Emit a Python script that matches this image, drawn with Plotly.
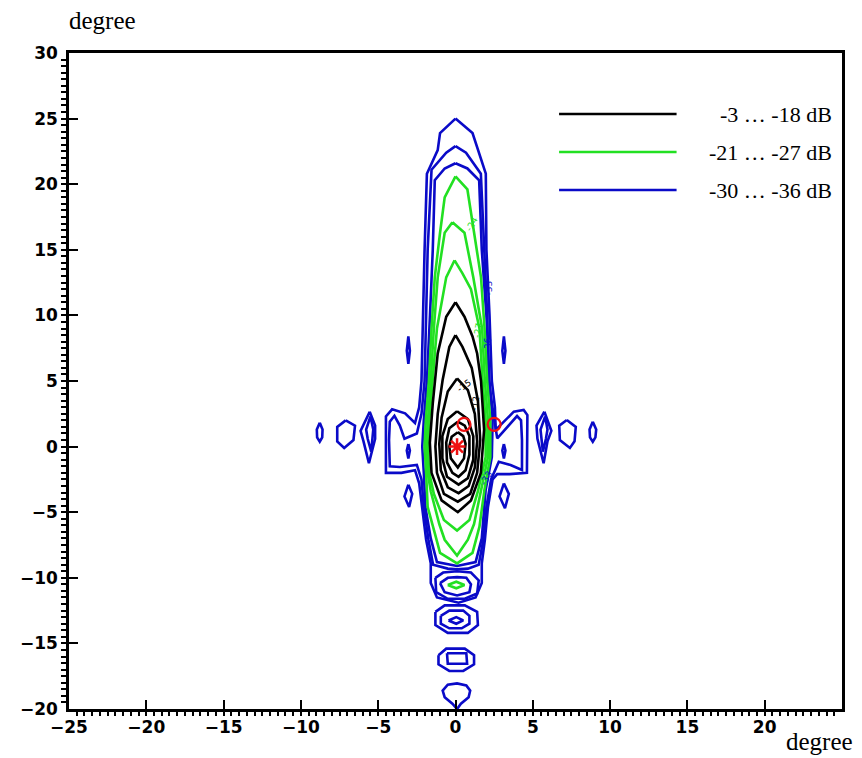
import plotly.graph_objects as go

# ---------------- data (degrees) ----------------
x_ticks = [-25, -20, -15, -10, -5, 0, 5, 10, 15, 20]
y_ticks = [-20, -15, -10, -5, 0, 5, 10, 15, 20, 25, 30]

legend_labels = ["-3 \u2026 -18 dB", "-21 \u2026 -27 dB", "-30 \u2026 -36 dB"]

# black contours: -3 ... -18 dB
c_m3 = [(0.15,1.1),(-0.25,0.75),(-0.4,0.0),(-0.3,-0.9),(0.15,-1.6),(0.55,-0.9),(0.65,0.2),(0.5,0.8)]
c_m6 = [(0.15,1.9),(-0.4,1.4),(-0.6,0.3),(-0.55,-1.2),(-0.2,-2.0),(0.2,-2.3),(0.65,-1.8),(0.9,-0.6),(0.9,0.8),(0.6,1.6)]
c_m9 = [(0.1,2.7),(-0.5,2.1),(-0.85,0.8),(-0.85,-0.9),(-0.55,-2.3),(0.2,-2.9),(0.8,-2.4),(1.15,-1.0),(1.15,0.8),(0.8,2.1)]
c_m12 = [(0.1,5.2),(-0.5,4.2),(-0.9,2.2),(-1.05,0.2),(-0.95,-1.8),(-0.5,-3.1),(0.2,-3.55),(0.85,-3.0),(1.25,-1.6),(1.4,0.4),(1.25,2.5),(0.8,4.3)]
c_m15 = [(0.0,8.5),(-0.4,7.6),(-0.83,5.1),(-1.15,2.5),(-1.3,0.0),(-1.2,-2.0),(-0.75,-3.6),(0.15,-4.2),(0.95,-3.6),(1.4,-2.0),(1.6,0.5),(1.45,3.5),(1.05,6.0),(0.45,7.6)]
c_m18 = [(0.0,11.0),(-0.6,9.9),(-1.15,7.1),(-1.47,3.3),(-1.66,0.3),(-1.55,-2.0),(-0.9,-4.1),(0.15,-5.0),(1.0,-4.1),(1.64,-2.0),(1.85,1.3),(1.65,5.0),(1.4,7.1),(1.1,8.4),(0.58,9.9)]

# green contours: -21 ... -27 dB
c_m21 = [(-0.06,14.2),(-0.6,12.9),(-1.2,9.0),(-1.5,5.0),(-1.7,2.0),(-1.8,0.0),(-1.7,-2.0),(-1.4,-3.6),(-0.75,-5.6),(0.1,-6.4),(0.9,-5.6),(1.45,-3.4),(1.95,-0.8),(1.95,2.0),(1.75,5.0),(1.55,9.0),(1.0,12.0),(0.45,13.2)]
c_m24 = [(-0.2,17.1),(-0.7,16.3),(-1.15,12.9),(-1.4,9.0),(-1.6,5.0),(-1.8,2.0),(-1.9,0.0),(-1.8,-2.0),(-1.6,-3.4),(-1.05,-5.9),(-0.7,-7.1),(0.1,-8.3),(0.8,-7.1),(1.2,-5.9),(1.65,-3.4),(2.1,-0.8),(2.1,2.0),(1.9,5.0),(1.72,9.0),(1.15,12.9),(0.58,16.3)]
c_m27 = [(0.0,20.6),(-0.7,19.0),(-1.0,16.3),(-1.34,12.9),(-1.55,9.0),(-1.72,5.0),(-1.92,2.0),(-2.0,0.0),(-1.9,-2.0),(-1.8,-4.6),(-1.34,-6.6),(-1.0,-8.1),(0.1,-8.9),(1.1,-8.1),(1.55,-6.1),(1.87,-3.3),(2.25,-0.8),(2.25,2.0),(2.05,5.0),(1.88,9.0),(1.65,12.9),(1.2,16.3),(0.9,18.3),(0.77,19.6)]
c_m27_lobe1 = [(-0.5,-10.55),(0.05,-10.3),(0.58,-10.55),(0.05,-10.8)]

# blue contours: -30 ... -36 dB
c_m30 = [(0.0,21.6),(-0.7,21.2),(-1.34,20.3),(-1.47,15.0),(-1.65,10.0),(-1.85,5.0),(-2.05,2.0),(-2.15,0.0),(-2.05,-2.0),(-1.95,-4.6),(-1.6,-7.0),(-1.2,-8.8),(0.1,-9.1),(1.3,-8.8),(1.7,-7.0),(1.95,-3.3),(2.35,-0.8),(2.4,2.0),(2.2,5.0),(2.0,10.0),(1.7,15.0),(1.53,20.3),(0.77,21.2)]
c_m33 = [(0.0,22.9),(-0.6,22.4),(-1.55,21.1),(-1.8,15.0),(-1.9,10.0),(-2.0,5.0),(-2.2,2.5),(-2.5,1.0),(-3.3,0.6),(-3.6,1.6),(-3.95,2.35),(-4.25,1.9),(-4.3,0.5),(-4.25,-1.5),(-3.6,-1.55),(-2.5,-1.4),(-2.2,-2.5),(-2.05,-4.6),(-1.75,-7.1),(-1.45,-9.0),(-0.5,-9.3),(0.1,-9.35),(0.8,-9.3),(1.5,-9.0),(1.8,-7.1),(2.0,-4.6),(2.3,-2.5),(2.8,-1.15),(3.56,-1.4),(4.3,-1.78),(4.3,0.5),(4.24,2.0),(3.98,2.33),(3.56,1.78),(2.7,0.63),(2.45,2.5),(2.15,5.0),(2.05,10.0),(1.85,15.0),(1.64,20.8),(0.68,22.4)]
c_m36 = [(0.0,25.0),(-1.0,23.9),(-1.15,22.6),(-1.85,20.8),(-2.0,15.0),(-2.1,10.0),(-2.2,5.0),(-2.35,3.0),(-2.62,1.8),(-3.26,2.54),(-4.1,2.84),(-4.5,2.3),(-4.5,-2.0),(-3.5,-2.0),(-2.62,-1.8),(-2.35,-2.8),(-2.15,-4.6),(-1.9,-7.1),(-1.6,-8.9),(-1.6,-10.4),(-1.2,-11.5),(0.2,-11.9),(1.3,-11.5),(1.7,-10.4),(1.7,-8.9),(1.9,-7.1),(2.1,-4.6),(2.4,-2.5),(2.7,-2.1),(3.5,-2.1),(4.62,-2.0),(4.65,2.4),(4.41,2.79),(3.77,2.66),(2.6,1.27),(2.55,3.0),(2.35,5.0),(2.2,10.0),(2.0,15.0),(1.96,20.8),(1.1,23.9)]
lobe1_m33 = [(-1.3,-10.0),(-0.8,-9.6),(0.1,-9.5),(1.0,-9.6),(1.5,-10.2),(1.4,-11.2),(0.6,-11.6),(-0.5,-11.6),(-1.25,-11.1)]
lobe1_m30 = [(-1.0,-10.4),(-0.5,-10.0),(0.1,-9.95),(0.7,-10.0),(1.0,-10.5),(0.9,-11.1),(0.1,-11.35),(-0.7,-11.1)]
lobe2_out = [(-1.3,-12.6),(-0.7,-12.1),(0.6,-12.1),(1.4,-12.6),(1.45,-13.6),(0.8,-14.2),(-0.5,-14.2),(-1.3,-13.6)]
lobe2_mid = [(-0.95,-12.9),(-0.4,-12.5),(0.5,-12.5),(0.9,-12.9),(0.9,-13.5),(0.4,-13.85),(-0.4,-13.85),(-0.95,-13.5)]
lobe2_in = [(-0.45,-13.25),(0.05,-13.0),(0.5,-13.25),(0.05,-13.5)]
lobe3_out = [(-1.1,-15.9),(-0.6,-15.4),(0.6,-15.4),(1.2,-15.9),(1.2,-16.6),(0.5,-17.1),(-0.4,-17.1),(-1.1,-16.6)]
lobe3_in = [(-0.55,-15.75),(0.7,-15.75),(0.75,-16.55),(-0.5,-16.55)]
lobe4 = [(0.1,-20.0),(-0.2,-19.6),(-0.7,-19.1),(-0.83,-18.6),(-0.5,-18.15),(0.1,-18.05),(0.7,-18.2),(0.95,-18.6),(0.85,-19.1),(0.35,-19.6)]
side_l1 = [(-8.78,1.82),(-8.6,1.3),(-8.62,0.7),(-8.78,0.37),(-8.95,0.7),(-8.97,1.3)]
side_l2 = [(-7.1,2.0),(-6.5,1.6),(-6.6,0.5),(-7.2,-0.1),(-7.65,0.4),(-7.65,1.5)]
side_l3 = [(-5.55,2.66),(-5.2,1.6),(-5.2,0.6),(-5.6,-1.27),(-5.95,0.4),(-6.14,1.2)]
side_l3i = [(-5.5,2.3),(-5.32,1.3),(-5.45,-0.39),(-5.68,0.6),(-5.78,1.3)]
side_l4 = [(-3.05,0.2),(-2.95,-0.3),(-3.05,-0.9),(-3.15,-0.3)]
side_l5 = [(-3.05,-2.9),(-2.8,-3.6),(-3.0,-4.6),(-3.3,-3.8)]
side_l6 = [(-3.05,8.4),(-2.95,7.3),(-3.05,6.3),(-3.15,7.3)]
side_r1 = [(8.88,1.9),(9.1,1.3),(9.05,0.7),(8.88,0.37),(8.7,0.7),(8.67,1.3)]
side_r2 = [(7.2,2.03),(7.78,1.5),(7.7,0.4),(7.4,-0.1),(6.75,0.5),(6.71,1.6)]
side_r3 = [(5.75,2.66),(6.2,1.2),(5.95,0.4),(5.7,-1.27),(5.3,0.6),(5.24,1.6)]
side_r3i = [(5.8,2.3),(5.95,1.3),(5.85,0.6),(5.65,-0.39),(5.5,1.3)]
side_r4 = [(3.13,0.2),(3.23,-0.3),(3.13,-0.9),(3.03,-0.3)]
side_r5 = [(3.13,-2.8),(3.45,-3.6),(3.2,-4.7),(2.85,-3.8)]
side_r6 = [(3.13,8.4),(3.23,7.3),(3.13,6.3),(3.03,7.3)]

black_contours = [c_m3, c_m6, c_m9, c_m12, c_m15, c_m18]
green_contours = [c_m21, c_m24, c_m27, c_m27_lobe1]
blue_contours = [c_m30, c_m33, c_m36, lobe1_m33, lobe1_m30, lobe2_out, lobe2_mid, lobe2_in,
                 lobe3_out, lobe3_in, lobe4, side_l1, side_l2, side_l3, side_l3i, side_l4,
                 side_l5, side_l6, side_r1, side_r2, side_r3, side_r3i, side_r4, side_r5, side_r6]

# small in-line contour level labels (text, x, y, angle, colour key)
level_label_text = ["-33", "-36", "-27", "-24", "-15", "-12", "-33"]
level_label_x = [2.15, 2.1, 1.45, 1.05, 0.55, 1.3, 2.0]
level_label_y = [12.1, 7.8, 8.9, 17.0, 4.6, 3.3, -2.4]
level_label_angle = [-90, -90, -80, -60, -35, -80, -60]
level_label_col = ["b", "b", "g", "g", "k", "k", "b"]

max_x, max_y = [0.1], [0.0]
marker_x, marker_y = [0.55, 2.5], [1.7, 1.7]

BLACK, GREEN, BLUE, RED = "#000000", "#22e022", "#0a0ac8", "#ee1111"
COLMAP = {"k": BLACK, "g": GREEN, "b": BLUE}

fig = go.Figure()

def add_group(contours, color):
    xs, ys = [], []
    for c in contours:
        pts = list(c) + [c[0]]
        xs += [p[0] for p in pts] + [None]
        ys += [p[1] for p in pts] + [None]
    fig.add_trace(go.Scatter(x=xs, y=ys, mode="lines", line=dict(color=color, width=2.6),
                             showlegend=False, hoverinfo="skip"))

add_group(blue_contours, BLUE)
add_group(green_contours, GREEN)
add_group(black_contours, BLACK)

fig.add_trace(go.Scatter(x=max_x, y=max_y, mode="markers",
                         marker=dict(symbol="asterisk-open", size=14, color=RED, line=dict(color=RED, width=2.5)),
                         showlegend=False))
fig.add_trace(go.Scatter(x=marker_x, y=marker_y, mode="markers",
                         marker=dict(symbol="circle-open", size=13, color=RED, line=dict(color=RED, width=2.2)),
                         showlegend=False))

tickfont = dict(family="DejaVu Sans", size=17, color="black", weight="bold")
fig.update_xaxes(range=[-25, 25], tickvals=x_ticks, ticktext=[("\u2212" + str(-v)) if v < 0 else str(v) for v in x_ticks],
                 ticks="inside", ticklen=9, tickwidth=2, tickcolor="black",
                 minor=dict(ticks="outside", ticklen=4, tickwidth=1.5, dtick=0.5, tickcolor="black"),
                 showline=True, linewidth=2.5, linecolor="black", mirror=True,
                 showgrid=False, zeroline=False, tickfont=tickfont, ticklabelstandoff=1)
fig.update_yaxes(range=[-20, 30], tickvals=y_ticks, ticktext=[("\u2212" + str(-v)) if v < 0 else str(v) for v in y_ticks],
                 ticks="inside", ticklen=9, tickwidth=2, tickcolor="black",
                 minor=dict(ticks="outside", ticklen=5, tickwidth=1.5, dtick=0.5, tickcolor="black"),
                 showline=True, linewidth=2.5, linecolor="black", mirror=True,
                 showgrid=False, zeroline=False, tickfont=tickfont, ticklabelstandoff=5)

# legend drawn as lines + labels in paper space
legend_colors = [BLACK, GREEN, BLUE]
legend_rows = [0.907, 0.849, 0.791]
shapes, annos = [], []
for lab, col, yy in zip(legend_labels, legend_colors, legend_rows):
    shapes.append(dict(type="line", xref="paper", yref="paper", x0=0.634, x1=0.786, y0=yy, y1=yy,
                       line=dict(color=col, width=2.5)))
    annos.append(dict(xref="paper", yref="paper", x=0.99, y=yy, xanchor="right", yanchor="middle",
                      text=lab, showarrow=False, font=dict(family="Liberation Serif", size=22, color="black")))
annos.append(dict(xref="paper", yref="paper", x=-0.003, y=1.05, xanchor="left", yanchor="middle",
                  text="degree", showarrow=False, font=dict(family="Liberation Serif", size=25, color="black")))
annos.append(dict(xref="paper", yref="paper", x=1.017, y=-0.05, xanchor="right", yanchor="middle",
                  text="degree", showarrow=False, font=dict(family="Liberation Serif", size=25, color="black")))
for t, lx, ly, ang, ck in zip(level_label_text, level_label_x, level_label_y, level_label_angle, level_label_col):
    annos.append(dict(xref="x", yref="y", x=lx, y=ly, text=t, textangle=ang, showarrow=False,
                      font=dict(family="DejaVu Sans", size=9, color=COLMAP[ck])))

# the page adds an 8 px body margin, so the figure is sized to fit inside it
fig.update_layout(width=854, height=750, margin=dict(l=52, r=20, t=45, b=49),
                  paper_bgcolor="white", plot_bgcolor="white", shapes=shapes, annotations=annos,
                  showlegend=False)

fig.write_html("out.html")
